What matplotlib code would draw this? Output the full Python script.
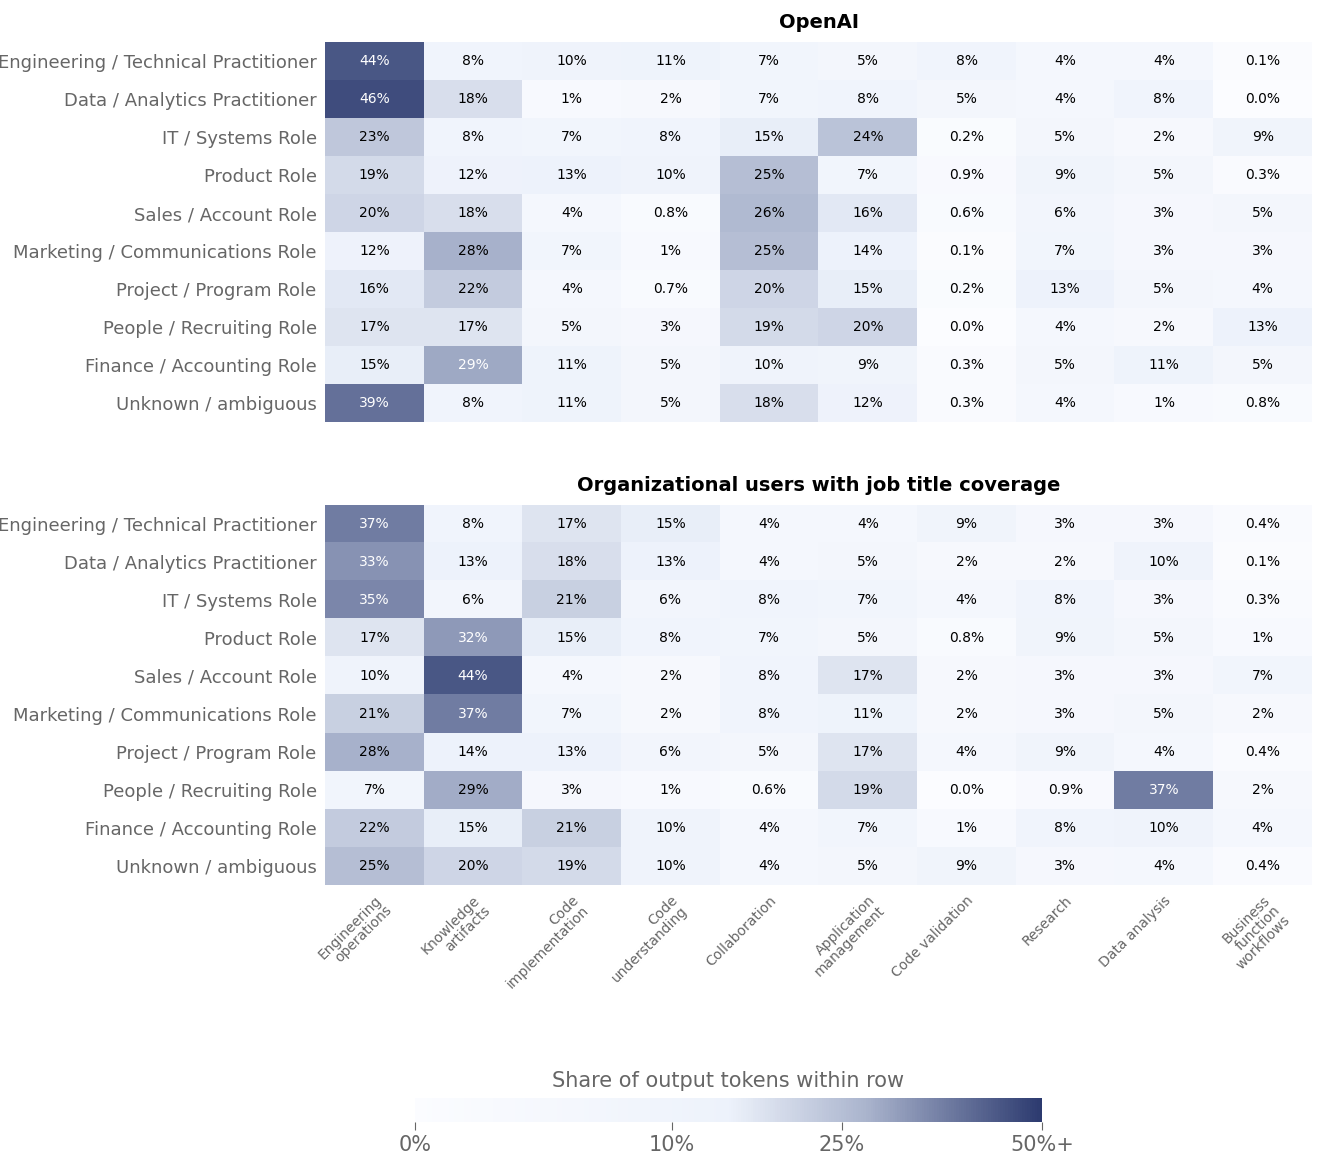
import matplotlib.pyplot as plt
import numpy as np
from matplotlib.colors import LinearSegmentedColormap, PowerNorm

roles = ["Engineering / Technical Practitioner", "Data / Analytics Practitioner",
         "IT / Systems Role", "Product Role", "Sales / Account Role",
         "Marketing / Communications Role", "Project / Program Role",
         "People / Recruiting Role", "Finance / Accounting Role", "Unknown / ambiguous"]
tasks = ["Engineering\noperations", "Knowledge\nartifacts", "Code\nimplementation",
         "Code\nunderstanding", "Collaboration", "Application\nmanagement",
         "Code validation", "Research", "Data analysis", "Business\nfunction\nworkflows"]

openai_vals = [
    [44, 8, 10, 11, 7, 5, 8, 4, 4, 0.1],
    [46, 18, 1, 2, 7, 8, 5, 4, 8, 0.0],
    [23, 8, 7, 8, 15, 24, 0.2, 5, 2, 9],
    [19, 12, 13, 10, 25, 7, 0.9, 9, 5, 0.3],
    [20, 18, 4, 0.8, 26, 16, 0.6, 6, 3, 5],
    [12, 28, 7, 1, 25, 14, 0.1, 7, 3, 3],
    [16, 22, 4, 0.7, 20, 15, 0.2, 13, 5, 4],
    [17, 17, 5, 3, 19, 20, 0.0, 4, 2, 13],
    [15, 29.4, 11, 5, 10, 9, 0.3, 5, 11, 5],
    [39, 8, 11, 5, 18, 12, 0.3, 4, 1, 0.8],
]
org_vals = [
    [37, 8, 17, 15, 4, 4, 9, 3, 3, 0.4],
    [33, 13, 18, 13, 4, 5, 2, 2, 10, 0.1],
    [35, 6, 21, 6, 8, 7, 4, 8, 3, 0.3],
    [17, 32, 15, 8, 7, 5, 0.8, 9, 5, 1],
    [10, 44, 4, 2, 8, 17, 2, 3, 3, 7],
    [21, 37, 7, 2, 8, 11, 2, 3, 5, 2],
    [28, 14, 13, 6, 5, 17, 4, 9, 4, 0.4],
    [7, 28.7, 3, 1, 0.6, 19, 0.0, 0.9, 37, 2],
    [22, 15, 21, 10, 4, 7, 1, 8, 10, 4],
    [25, 20, 19, 10, 4, 5, 9, 3, 4, 0.4],
]
panel_titles = ["OpenAI", "Organizational users with job title coverage"]

cmap = LinearSegmentedColormap.from_list(
    "share", [(0, "#fbfcff"), (0.5, "#edf2fb"), (0.72, "#aab4cd"), (1, "#2c3a6f")])
norm = PowerNorm(0.555, vmin=0, vmax=0.5, clip=True)

W, H = 1317, 1166
fig = plt.figure(figsize=(W / 100, H / 100), dpi=100)

def px_axes(x0, y0, x1, y1):
    return fig.add_axes([x0 / W, 1 - y1 / H, (x1 - x0) / W, (y1 - y0) / H])

label_color = "#666666"
for k, (vals, title) in enumerate(zip([openai_vals, org_vals], panel_titles)):
    data = np.array(vals) / 100
    top = 42 if k == 0 else 505
    ax = px_axes(325, top, 1312, top + 380)
    im = ax.imshow(data, cmap=cmap, norm=norm, aspect="auto")
    for i in range(data.shape[0]):
        for j in range(data.shape[1]):
            v = vals[i][j]
            txt = f"{v:.1f}%" if v < 1 else f"{v:.0f}%"
            ax.text(j, i, txt, ha="center", va="center", fontsize=10,
                    color="white" if v >= 29 else "black")
    ax.set_yticks(range(len(roles)))
    ax.set_yticklabels(roles, fontsize=13, color=label_color)
    ax.tick_params(length=0, pad=6)
    if k == 1:
        ax.set_xticks(range(len(tasks)))
        ax.set_xticklabels(tasks, rotation=45, ha="right", rotation_mode="anchor",
                           fontsize=10, color=label_color, linespacing=1.0)
    else:
        ax.set_xticks([])
    for s in ax.spines.values():
        s.set_visible(False)
    ax.set_title(title, fontsize=14, fontweight="bold", pad=10)

cax = px_axes(415, 1098, 1042, 1122)
cb = fig.colorbar(im, cax=cax, orientation="horizontal")
cb.outline.set_visible(False)
cb.set_ticks([0, 0.1, 0.25, 0.5])
cb.set_ticklabels(["0%", "10%", "25%", "50%+"])
cax.tick_params(labelsize=15, labelcolor=label_color, color=label_color, length=6)
cax.set_title("Share of output tokens within row", fontsize=15, color=label_color, pad=8)

fig.savefig("out.png", dpi=100)
